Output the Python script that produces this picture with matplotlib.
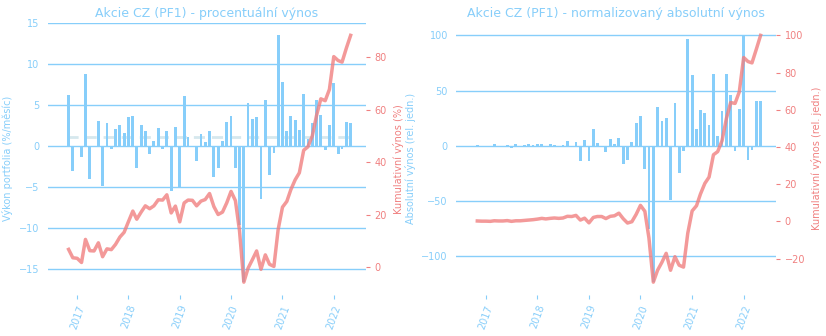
import matplotlib
matplotlib.use("Agg")
import matplotlib.pyplot as plt
import matplotlib.dates as mdates
import numpy as np
import pandas as pd

# ---- data ----
months = pd.date_range("2016-11-01", periods=67, freq="MS")

pct_return = [6.2, -3.1, 0.0, -1.4, 8.8, -4.1, 0.05, 3.05, -4.85, 2.8,
              -0.33, 2.07, 2.56, 1.6, 3.55, 3.66, -2.64, 2.56, 1.83, -0.93,
              0.65, 2.2, -0.33, 1.83, -5.57, 2.32, -5.0, 6.1, 1.1, 0.0,
              -1.8, 1.46, 0.49, 1.83, -3.74, -2.64, 0.61, 2.93, 3.66, -2.64,
              -9.7, -16.67, 5.24, 3.29, 3.54, -6.54, 5.61, -3.5, -0.81, 13.54,
              7.8, 1.83, 3.66, 3.17, 1.95, 6.34, 0.85, 2.8, 5.61, 3.78,
              -0.45, 2.56, 7.68, -0.93, -0.33, 2.93, 2.8]

pct_cumulative = [6.8, 3.6, 3.4, 1.8, 10.6, 6.3, 6.2, 9.3, 4.0, 7.0,
                  6.7, 8.7, 11.5, 13.3, 17.4, 21.4, 18.3, 21.0, 23.4, 22.3,
                  23.4, 25.7, 25.6, 27.6, 20.7, 23.3, 17.3, 24.5, 25.6, 25.5,
                  23.4, 25.2, 25.8, 28.1, 23.1, 20.1, 21.0, 24.5, 28.9, 25.4,
                  14.0, -5.7, -0.4, 2.9, 6.2, -0.8, 4.7, 1.1, 0.3, 14.3,
                  22.9, 25.1, 29.5, 33.3, 36.0, 44.6, 45.9, 50.0, 58.0, 64.2,
                  63.5, 67.8, 80.3, 78.8, 78.2, 83.6, 88.4]

abs_return = [0.9, -0.4, 0.0, -0.2, 1.8, -0.5, 0.0, 0.9, -2.1, 1.5,
              -0.2, 0.9, 1.5, 0.9, 1.8, 1.8, -1.5, 1.8, 1.2, -1.0,
              0.9, 4.5, -0.5, 3.6, -13.3, 5.4, -13.3, 15.4, 2.7, 0.0,
              -6.0, 6.3, 1.8, 7.2, -16.0, -12.4, 3.6, 20.8, 27.1, -21.4,
              -75.7, -123.4, 35.3, 22.6, 25.3, -48.9, 38.9, -25.0, -5.1, 96.8,
              64.3, 15.4, 32.6, 29.9, 19.0, 65.2, 9.0, 31.7, 65.2, 46.2,
              -5.1, 33.5, 100.0, -12.4, -4.2, 40.7, 40.7]

abs_cumulative = [0.2, 0.1, 0.1, 0.0, 0.3, 0.2, 0.2, 0.4, 0.0, 0.3,
                  0.3, 0.5, 0.7, 0.9, 1.2, 1.6, 1.3, 1.6, 1.8, 1.6,
                  1.8, 2.7, 2.6, 3.2, 0.7, 1.7, -0.8, 2.1, 2.6, 2.6,
                  1.5, 2.7, 3.0, 4.4, 1.4, -0.9, -0.2, 3.7, 8.6, 5.4,
                  -9.0, -32.7, -26.3, -22.0, -17.2, -26.3, -19.0, -23.6, -24.6, -6.4,
                  5.6, 8.4, 14.7, 20.4, 23.8, 35.8, 37.5, 43.4, 55.4, 63.9,
                  63.4, 69.6, 88.1, 85.9, 85.2, 92.6, 100.0]

titles = ["Akcie CZ (PF1) - procentuální výnos",
          "Akcie CZ (PF1) - normalizovaný absolutní výnos"]
left_labels = ["Výkon portfolia (%/měsíc)", "Absolutní výnos (rel. jedn.)"]
right_labels = ["Kumulativní výnos (%)", "Kumulativní výnos (rel. jedn.)"]

BLUE = "#87cefa"
RED = "#f08080"

plt.rcParams["font.family"] = ["DejaVu Sans"]
fig = plt.figure(figsize=(8.26, 3.36), dpi=100)
axes = [fig.add_axes([0.0577, 0.1235, 0.385, 0.808]),
        fig.add_axes([0.5524, 0.1235, 0.3867, 0.808])]

xlim = (pd.Timestamp("2016-06-05"), pd.Timestamp("2022-08-16"))
series = [(pct_return, pct_cumulative), (abs_return, abs_cumulative)]

for i, ax in enumerate(axes):
    bars, cum = series[i]
    ax.bar(months, bars, width=20, color=BLUE, zorder=3)
    if i == 0:
        m = float(np.mean(bars))
        ax.plot([months[0] - pd.Timedelta(days=14), months[-1] - pd.Timedelta(days=10)],
                [m, m], ls=(0, (4, 2.5)), color="#d6e8ee", lw=2, zorder=2.5)
    ax.set_xlim(*xlim)
    ax.grid(axis="y", color=BLUE, lw=1)
    ax.grid(axis="x", visible=False)
    ax.set_axisbelow(True)
    for s in ax.spines.values():
        s.set_visible(False)
    ax.xaxis.set_major_locator(mdates.YearLocator())
    ax.xaxis.set_major_formatter(mdates.DateFormatter("%Y"))
    ax.tick_params(axis="x", colors=BLUE, labelsize=7, length=3, rotation=70)
    ax.tick_params(axis="y", colors=BLUE, labelsize=7, length=0, pad=6)
    ax.set_ylabel(left_labels[i], color=BLUE, fontsize=7)
    ax.set_title(titles[i], color=BLUE, fontsize=9, pad=4)
    if i == 0:
        ax.set_yticks([-15, -10, -5, 0, 5, 10, 15])
    else:
        ax.set_yticks([-100, -50, 0, 50, 100])

    ax2 = ax.twinx()
    ax2.plot(months, cum, color=RED, lw=2.5, alpha=0.8, zorder=4)
    for s in ax2.spines.values():
        s.set_visible(False)
    ax2.tick_params(axis="y", colors=RED, labelsize=7, length=3)
    ax2.set_ylabel(right_labels[i], color=RED, fontsize=7)
    ax2.set_xlim(*xlim)

fig.savefig("out.png", dpi=100)
